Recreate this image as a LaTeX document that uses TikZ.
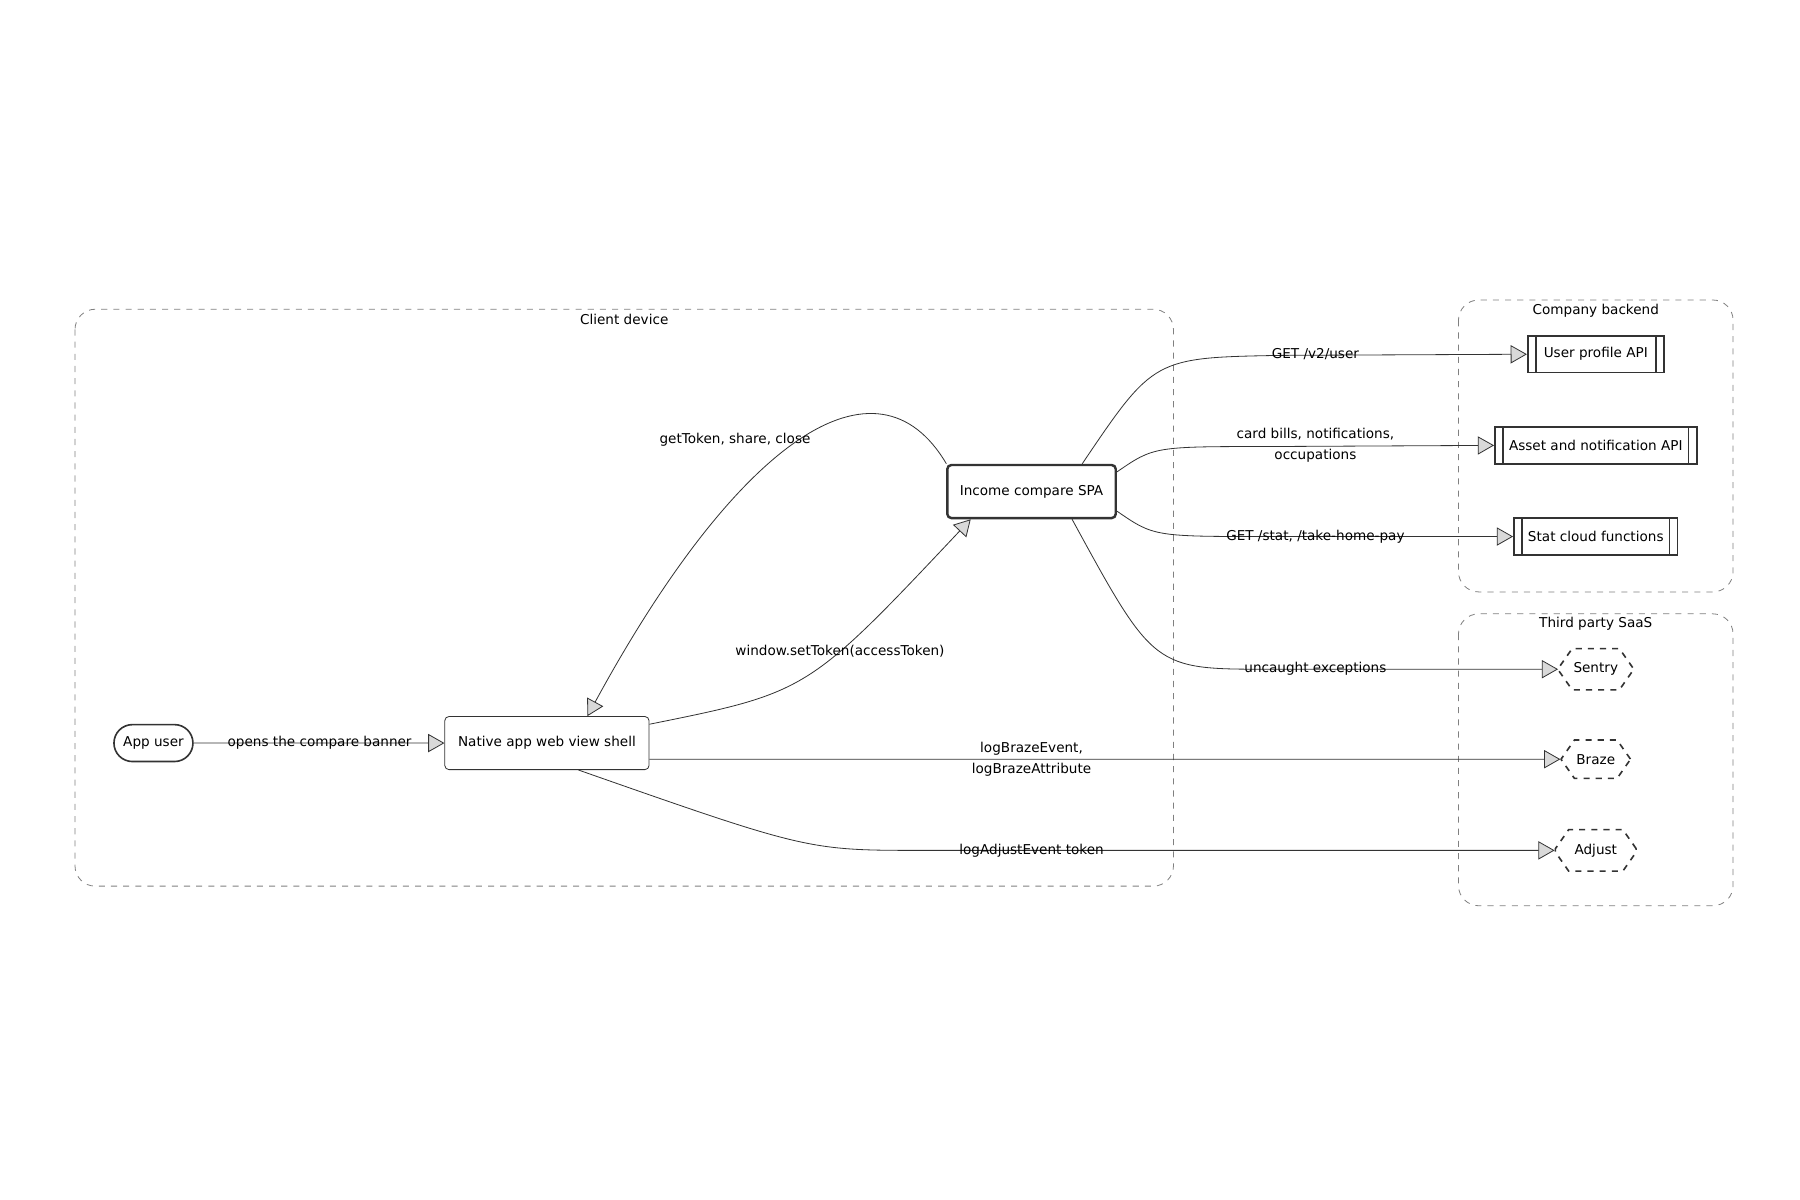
\documentclass[tikz,border=0pt]{standalone}
\usepackage{fontspec}
\setmainfont{DejaVu Sans}
\usetikzlibrary{arrows.meta,shapes.geometric,shapes.misc,positioning}
\begin{document}
\begin{tikzpicture}[
       x=0.02cm, y=-0.02cm,
       font=\fontsize{6.7}{10.5}\selectfont,
       group/.style={draw=gray, dashed, rounded corners=10pt},
       box/.style={draw=black!80, fill=white, rounded corners=2pt, minimum height=0.92cm, inner sep=2pt},
       api/.style={draw=black!80, thick, fill=white, minimum height=0.64cm, inner sep=2pt,
         path picture={\draw[black!80, thick]
           ([xshift=4pt]path picture bounding box.north west) -- ([xshift=4pt]path picture bounding box.south west)
           ([xshift=-4pt]path picture bounding box.north east) -- ([xshift=-4pt]path picture bounding box.south east);}},
       saas/.style={draw=black!80, dashed, thick, fill=white, chamfered rectangle, chamfered rectangle xsep=4pt,
         chamfered rectangle angle=35, minimum height=0.64cm, inner xsep=3pt},
       flow/.style={draw=black!80, -{Triangle[open, fill=gray!30, length=8pt, width=9pt]}},
       lbl/.style={align=center}
     ]
       \useasboundingbox (0,0) rectangle (1560,1040);

       \draw[group] (65,268) rectangle (1017,768);
       \draw[group] (1264,260) rectangle (1502,513);
       \draw[group] (1264,532) rectangle (1502,785);
       \node at (541,277) {Client device};
       \node at (1383,269) {Company backend};
       \node at (1383,541) {Third party SaaS};

       \node (user) at (133,644) [draw=black!80, thick, rounded rectangle, minimum height=0.64cm, minimum width=1.44cm, inner sep=1pt] {App user};
       \node (shell) at (474,644) [box, minimum width=3.54cm] {Native app web view shell};
       \node (spa) at (894,426) [box, very thick, minimum width=2.92cm] {Income compare SPA};

       \node (prof) at (1383,307) [api, minimum width=2.36cm] {User profile API};
       \node (asset) at (1383,386) [api, minimum width=3.5cm] {Asset and notification API};
       \node (stat) at (1383,465) [api, minimum width=2.84cm] {Stat cloud functions};

       \node (sentry) at (1383,580) [saas, minimum width=1.28cm] {Sentry};
       \node (braze) at (1383,658) [saas, minimum width=1.2cm] {Braze};
       \node (adjust) at (1383,737) [saas, minimum width=1.4cm] {Adjust};

       \draw[flow] (user) -- (shell);
       \draw[flow] ([yshift=-4pt]shell.north east) .. controls (700,600) .. ([xshift=-30pt]spa.south);
       \draw[flow] ([xshift=-42pt]spa.north) .. controls (760,300) and (640,380) .. ([xshift=20pt]shell.north);
       \draw[flow] ([xshift=25pt]spa.north) .. controls (1000,310) .. (1110,308) -- (prof.west);
       \draw[flow] ([yshift=-4pt]spa.north east) .. controls (1000,387) .. (1100,387) -- (asset.west);
       \draw[flow] ([yshift=4pt]spa.south east) .. controls (1000,465) .. (1100,465) -- (stat.west);
       \draw[flow] ([xshift=20pt]spa.south) .. controls (1000,580) .. (1100,580) -- (sentry.west);
       \draw[flow] ([yshift=-8pt]shell.east) .. controls (800,658) .. (braze.west);
       \draw[flow] ([xshift=-35pt]shell.south east) .. controls (700,737) .. (800,737) -- (adjust.west);

       \node[lbl] at (277,644) {opens the compare banner};
       \node[lbl] at (728,564) {window.setToken(accessToken)};
       \node[lbl] at (637,381) {getToken, share, close};
       \node[lbl] at (1140,307) {GET /v2/user};
       \node[lbl] at (1140,386) {card bills, notifications,\\occupations};
       \node[lbl] at (1140,465) {GET /stat, /take-home-pay};
       \node[lbl] at (1140,580) {uncaught exceptions};
       \node[lbl] at (894,658) {logBrazeEvent,\\logBrazeAttribute};
       \node[lbl] at (894,737) {logAdjustEvent token};

\end{tikzpicture}
\end{document}
